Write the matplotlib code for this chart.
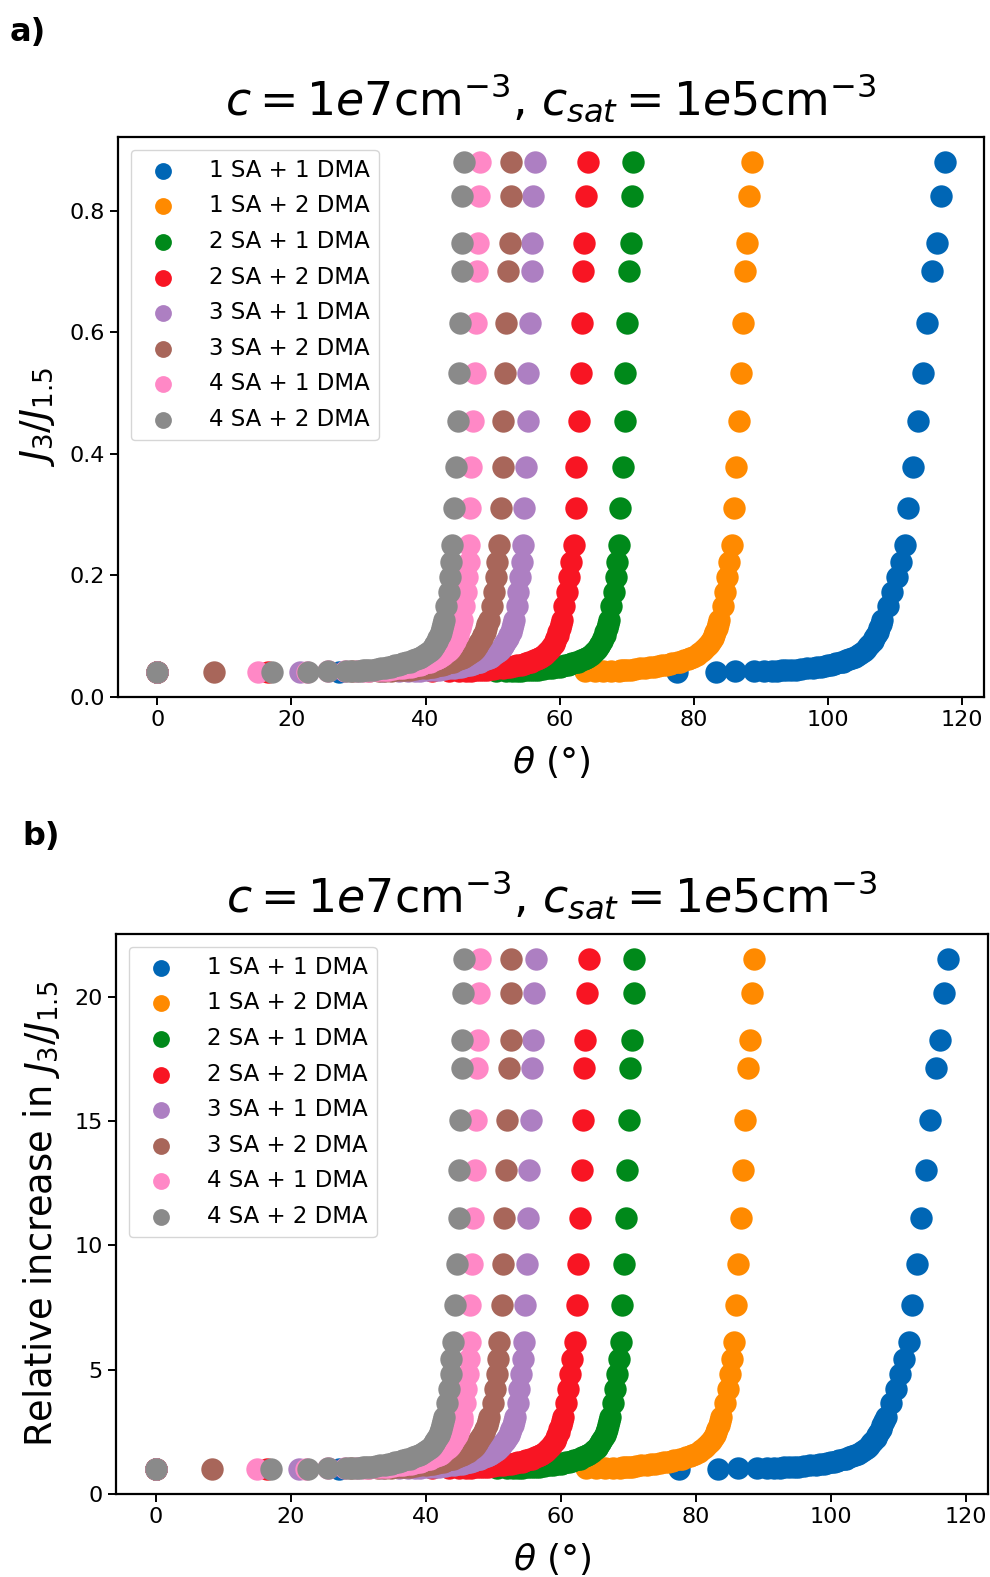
import matplotlib
matplotlib.use("Agg")
import matplotlib.pyplot as plt
import numpy as np

plt.rcParams['font.family'] = ['DejaVu Sans']
plt.rcParams['mathtext.fontset'] = 'dejavusans'

# ---- data -------------------------------------------------------------
LABELS = ["1 SA + 1 DMA", "1 SA + 2 DMA", "2 SA + 1 DMA", "2 SA + 2 DMA",
          "3 SA + 1 DMA", "3 SA + 2 DMA", "4 SA + 1 DMA", "4 SA + 2 DMA"]
COLORS = ["#0066b5", "#ff8a00", "#00891a", "#f81523",
          "#ad7fc2", "#a8665a", "#ff88c6", "#8a8a8a"]

# J3/J1.5 levels shared by all series (panel a)
Y_LEVELS = [0.880, 0.825, 0.748, 0.701, 0.616, 0.534, 0.455, 0.378, 0.311, 0.250,
            0.222, 0.197, 0.173, 0.149, 0.127,
            0.120, 0.113, 0.107, 0.102, 0.097, 0.092, 0.087, 0.083, 0.079, 0.076,
            0.072, 0.069, 0.066, 0.064, 0.062, 0.060, 0.058, 0.057, 0.055, 0.054,
            0.053, 0.052, 0.051, 0.050, 0.049, 0.048, 0.047, 0.046, 0.045, 0.0445,
            0.044, 0.0435, 0.043, 0.0427, 0.0424, 0.0422, 0.042]
Y_BASE = 0.0417          # level of the sparse low points
REL_REF = 0.0409         # reference J3/J1.5 used for the relative increase (panel b)

THETA_1SA1DMA = [117.4, 116.8, 116.2, 115.5, 114.7, 114.1, 113.4, 112.7, 112.0, 111.5,
                 110.9, 110.3, 109.6, 108.9, 108.1,
                 107.9, 107.6, 107.4, 107.2, 106.9, 106.7, 106.3, 106.0, 105.7, 105.4,
                 104.9, 104.5, 104.0, 103.6, 103.2, 102.7, 102.2, 101.9, 101.2, 100.9,
                 100.5, 100.0, 99.5, 99.0, 98.4, 97.8, 96.9, 96.0, 95.2, 94.5,
                 93.8, 93.1, 92.4, 91.6, 90.5, 89.0, 86.2]
THETA_1SA2DMA = [88.6, 88.3, 88.0, 87.7, 87.3, 87.0, 86.7, 86.3, 86.0, 85.7,
                 85.3, 85.0, 84.7, 84.3, 83.8,
                 83.6, 83.4, 83.2, 83.0, 82.8, 82.5, 82.2, 81.9, 81.5, 81.2,
                 80.8, 80.4, 79.9, 79.5, 79.1, 78.6, 78.0, 77.6, 76.8, 76.4,
                 75.9, 75.3, 74.7, 74.0, 73.4, 72.7, 71.9, 71.2, 70.6, 70.1,
                 69.6, 69.2, 68.8, 67.7, 66.5, 65.2, 63.8]
THETA_2SA1DMA = [70.9, 70.8, 70.6, 70.3, 70.1, 69.8, 69.7, 69.4, 69.0, 68.9,
                 68.6, 68.4, 68.1, 67.7, 67.3,
                 67.2, 67.0, 66.8, 66.7, 66.5, 66.3, 66.0, 65.8, 65.5, 65.3,
                 64.9, 64.6, 64.2, 63.9, 63.6, 63.2, 62.8, 62.5, 61.9, 61.6,
                 61.2, 60.8, 60.4, 60.0, 59.5, 58.9, 58.2, 57.5, 56.8, 56.2,
                 55.6, 55.0, 54.3, 53.6, 52.9, 52.0, 50.5]
THETA_2SA2DMA = [64.2, 63.9, 63.6, 63.5, 63.3, 63.2, 62.9, 62.5, 62.4, 62.1,
                 61.7, 61.4, 61.1, 60.7, 60.3,
                 60.2, 60.0, 59.8, 59.7, 59.5, 59.3, 59.1, 58.9, 58.6, 58.3,
                 57.9, 57.6, 57.2, 56.9, 56.6, 56.2, 55.7, 55.4, 54.9, 54.6,
                 54.2, 53.7, 53.2, 52.6, 52.1, 51.5, 50.7, 50.0, 49.2, 48.6,
                 48.0, 47.4, 46.7, 46.0, 45.0, 43.5, 41.0]
THETA_3SA1DMA = [56.3, 56.0, 55.9, 55.8, 55.6, 55.3, 55.2, 55.0, 54.7, 54.5,
                 54.4, 54.1, 53.8, 53.6, 53.2,
                 53.1, 52.9, 52.7, 52.5, 52.3, 52.0, 51.7, 51.5, 51.2, 50.9,
                 50.5, 50.1, 49.7, 49.4, 49.0, 48.6, 48.1, 47.9, 47.3, 47.0,
                 46.6, 46.2, 45.8, 45.3, 44.8, 44.2, 43.5, 42.8, 42.0, 41.4,
                 40.7, 40.0, 39.2, 38.4, 37.4, 36.0, 33.5]
THETA_3SA2DMA = [52.7, 52.7, 52.6, 52.3, 52.0, 51.9, 51.6, 51.5, 51.3, 50.9,
                 50.7, 50.5, 50.2, 49.9, 49.4,
                 49.2, 49.0, 48.8, 48.6, 48.4, 48.1, 47.8, 47.6, 47.3, 47.0,
                 46.6, 46.2, 45.7, 45.4, 45.0, 44.6, 44.1, 43.8, 43.2, 42.9,
                 42.5, 42.0, 41.6, 41.1, 40.6, 40.0, 39.2, 38.4, 37.6, 37.0,
                 36.3, 35.6, 34.8, 34.0, 33.0, 31.5, 29.0]
THETA_4SA1DMA = [48.1, 47.9, 47.8, 47.6, 47.5, 47.3, 47.0, 46.8, 46.6, 46.5,
                 46.4, 46.2, 46.0, 45.8, 45.4,
                 45.3, 45.1, 44.9, 44.8, 44.6, 44.4, 44.1, 43.9, 43.6, 43.3,
                 42.9, 42.6, 42.2, 41.9, 41.5, 41.1, 40.6, 40.4, 39.8, 39.5,
                 39.1, 38.7, 38.3, 37.8, 37.3, 36.7, 36.0, 35.2, 34.4, 33.8,
                 33.1, 32.4, 31.6, 30.8, 29.8, 28.0, 25.5]
THETA_4SA2DMA = [45.7, 45.5, 45.4, 45.4, 45.1, 45.0, 44.9, 44.6, 44.3, 44.0,
                 43.8, 43.7, 43.5, 43.1, 42.7,
                 42.6, 42.4, 42.3, 42.1, 41.9, 41.7, 41.4, 41.2, 40.9, 40.6,
                 40.2, 39.8, 39.3, 39.0, 38.6, 38.1, 37.6, 37.3, 36.7, 36.3,
                 35.9, 35.4, 35.2, 34.9, 34.4, 34.0, 33.3, 32.7, 32.1, 31.6,
                 31.1, 30.7, 30.3, 29.7, 28.9, 28.2, 25.5]

# sparse low points (J3/J1.5 at Y_BASE)
TAIL_1SA1DMA = [83.3, 77.5, 27.1, 0.0]
TAIL_1SA2DMA = [0.0]
TAIL_2SA1DMA = [0.0]
TAIL_2SA2DMA = [16.5, 0.0]
TAIL_3SA1DMA = [21.2, 0.0]
TAIL_3SA2DMA = [8.4, 0.0]
TAIL_4SA1DMA = [22.3, 15.0, 0.0]
TAIL_4SA2DMA = [22.5, 17.1, 0.0]

THETAS = [THETA_1SA1DMA, THETA_1SA2DMA, THETA_2SA1DMA, THETA_2SA2DMA,
          THETA_3SA1DMA, THETA_3SA2DMA, THETA_4SA1DMA, THETA_4SA2DMA]
TAILS = [TAIL_1SA1DMA, TAIL_1SA2DMA, TAIL_2SA1DMA, TAIL_2SA2DMA,
         TAIL_3SA1DMA, TAIL_3SA2DMA, TAIL_4SA1DMA, TAIL_4SA2DMA]

TITLE = r"$c = 1e7\mathrm{cm}^{-3}$, $c_{sat} = 1e5\mathrm{cm}^{-3}$"

# ---- figure -----------------------------------------------------------
W, H = 990, 1577
fig = plt.figure(figsize=(W / 100, H / 100), dpi=100)

def frac(l, t, r, b):
    return [l / W, 1 - b / H, (r - l) / W, (b - t) / H]

ax_a = fig.add_axes(frac(118, 137, 984, 697))
ax_b = fig.add_axes(frac(116, 934, 988, 1494))

MS = 260
for ax, scale, ylabel, ylfs in [(ax_a, 1.0, r"$J_3/J_{1.5}$", 27),
                                (ax_b, 1.0 / REL_REF, r"Relative increase in $J_3/J_{1.5}$", 26.5)]:
    for th, tail, col, lab in zip(THETAS, TAILS, COLORS, LABELS):
        x = np.array(th + tail)
        y = np.array(Y_LEVELS + [Y_BASE] * len(tail)) * scale
        ax.scatter(x, y, s=MS, color=col, label=lab, linewidths=0)
    ax.set_xticks([0, 20, 40, 60, 80, 100, 120])
    ax.tick_params(labelsize=16, length=6, width=1.4)
    for sp in ax.spines.values():
        sp.set_linewidth(1.6)
    ax.set_xlabel(r"$\theta$ (°)", fontsize=26, labelpad=10)
    ax.set_ylabel(ylabel, fontsize=ylfs, labelpad=9)
    ax.set_title(TITLE, fontsize=33, pad=16)
    ax.legend(loc="upper left", fontsize=16.5, scatterpoints=1, markerscale=0.75,
              handletextpad=1.0, borderaxespad=0.55, labelspacing=0.55)

ax_a.set_yticks([0.0, 0.2, 0.4, 0.6, 0.8])
ax_b.set_yticks([0, 5, 10, 15, 20])

fig.text(10 / W, 1 - 32 / H, "a)", fontsize=23, fontweight="bold", va="center", ha="left")
fig.text(22 / W, 1 - 836 / H, "b)", fontsize=23, fontweight="bold", va="center", ha="left")

fig.savefig("out.png", dpi=100)
